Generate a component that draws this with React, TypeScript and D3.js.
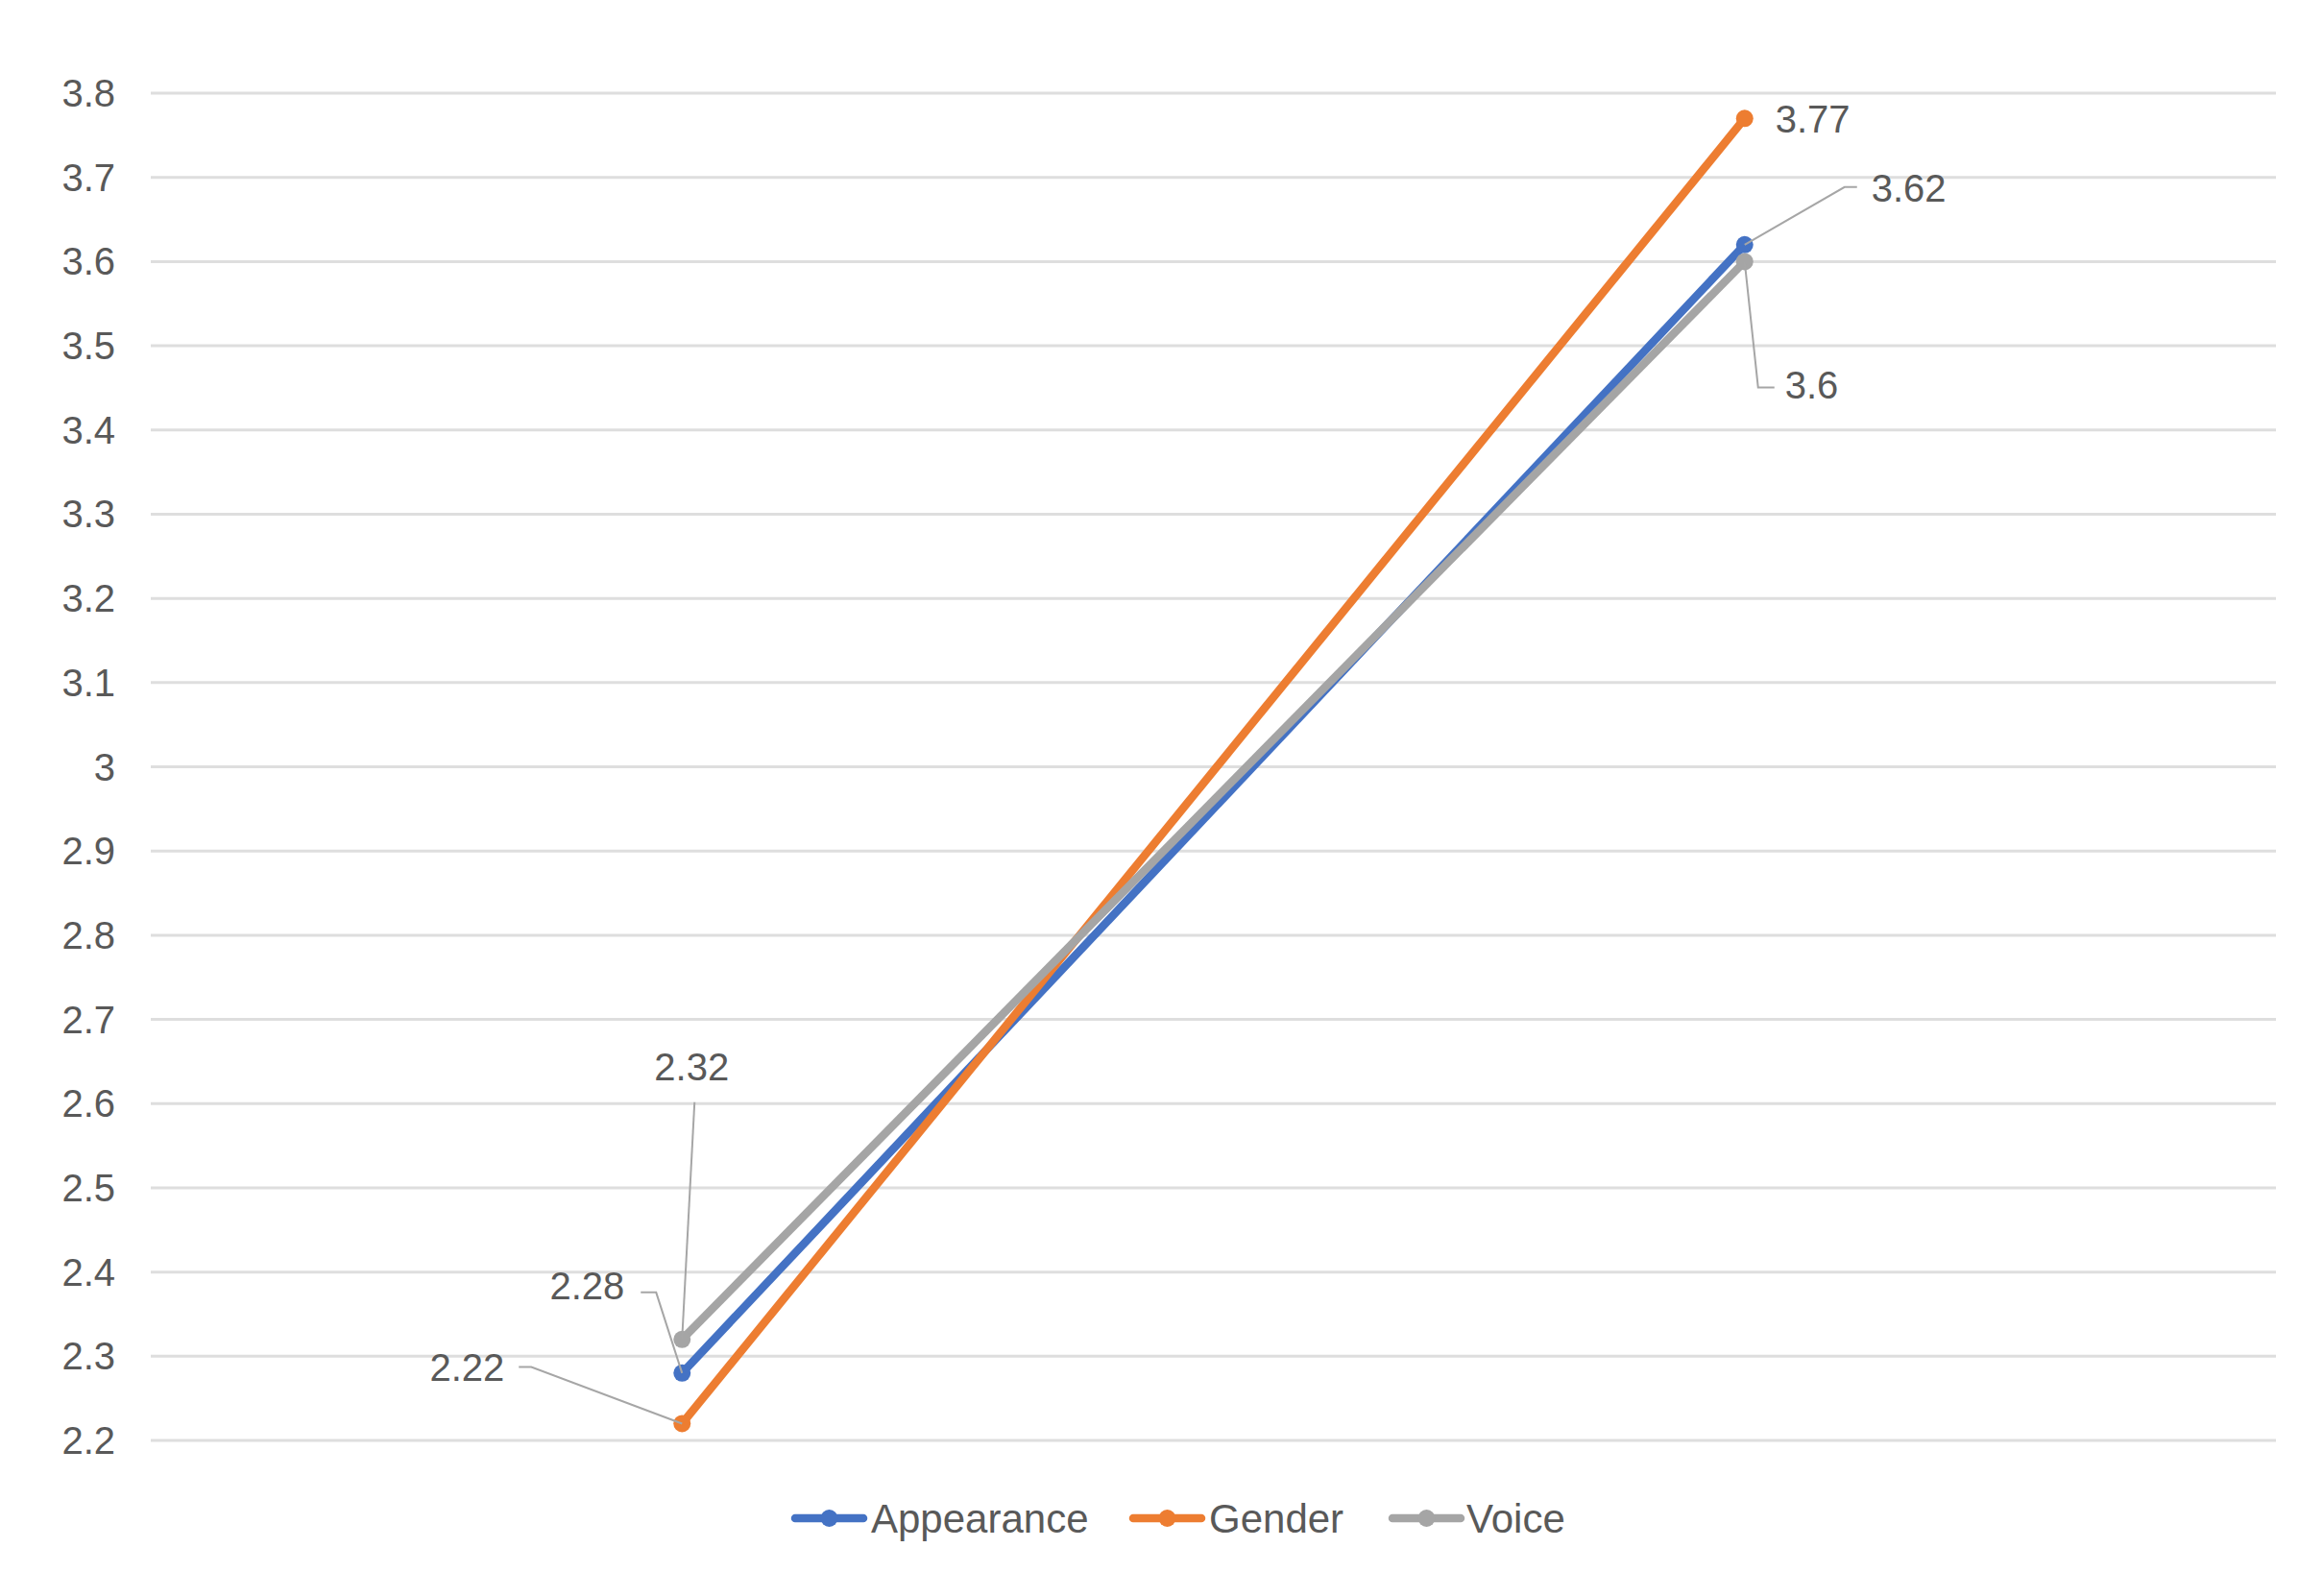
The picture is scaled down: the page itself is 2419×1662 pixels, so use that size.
import React, { useEffect } from "react";
import * as d3 from "d3";

const categories = ["Group 1", "Group 2"];
const seriesNames = ["Appearance", "Gender", "Voice"];
const appearance = [2.28, 3.62];
const gender = [2.22, 3.77];
const voice = [2.32, 3.6];
const yTicks = [2.2, 2.3, 2.4, 2.5, 2.6, 2.7, 2.8, 2.9, 3.0, 3.1, 3.2, 3.3, 3.4, 3.5, 3.6, 3.7, 3.8];

const W = 2419;
const H = 1662;
const colors = ["#4472C4", "#ED7D31", "#A5A5A5"];
const FONT = "'Liberation Sans', Arial, sans-serif";
const TEXT = "#595959";

type LabelCfg = { dx: number; dy: number; anchor: string; leader: [number, number][] | null };
const labelCfg: LabelCfg[][] = [
  [
    { dx: -60, dy: -77, anchor: "end", leader: [[-27, -84], [-43, -84]] },
    { dx: 132, dy: -45, anchor: "start", leader: [[104, -60], [117, -60]] },
  ],
  [
    { dx: -185, dy: -44, anchor: "end", leader: [[-157, -59], [-170, -59]] },
    { dx: 32, dy: 15, anchor: "start", leader: null },
  ],
  [
    { dx: 10, dy: -270, anchor: "middle", leader: [[13, -247]] },
    { dx: 42, dy: 143, anchor: "start", leader: [[14, 131], [31, 131]] },
  ],
];

export default function App() {
  useEffect(() => {
    document.body.style.margin = "0";
  }, []);

  const x = d3.scaleBand<string>().domain(categories).range([157, 2370]);
  const y = d3.scaleLinear().domain([2.2, 3.8]).range([1500, 97]);
  const data = [appearance, gender, voice];
  const line = d3
    .line<number>()
    .x((_, i) => (x(categories[i]) as number) + x.bandwidth() / 2)
    .y((d) => y(d));

  const fmt = (v: number) => String(+v.toFixed(1));

  const legendItems = [
    { lx: 828, tx: 907 },
    { lx: 1180, tx: 1259 },
    { lx: 1450, tx: 1527 },
  ];
  const legendY = 1581;

  return (
    <svg width={W} height={H} style={{ display: "block", background: "#fff" }} fontFamily={FONT}>
      <rect x={0} y={0} width={W} height={H} fill="#fff" />
      {yTicks.map((t) => (
        <g key={t}>
          <line x1={157} x2={2370} y1={y(t)} y2={y(t)} stroke="#DEDEDE" strokeWidth={3} />
          <text x={120} y={y(t)} dy="0.35em" textAnchor="end" fontSize={40} fill={TEXT}>
            {fmt(t)}
          </text>
        </g>
      ))}
      {data.map((s, si) => (
        <g key={seriesNames[si]}>
          <path d={line(s) || ""} fill="none" stroke={colors[si]} strokeWidth={8.5} strokeLinejoin="round" />
          {s.map((v, i) => (
            <circle
              key={i}
              cx={(x(categories[i]) as number) + x.bandwidth() / 2}
              cy={y(v)}
              r={9}
              fill={colors[si]}
            />
          ))}
        </g>
      ))}
      {data.map((s, si) =>
        s.map((v, i) => {
          const px = (x(categories[i]) as number) + x.bandwidth() / 2;
          const py = y(v);
          const c = labelCfg[si][i];
          const pts: [number, number][] = c.leader ? [[0, 0], ...c.leader] : [];
          return (
            <g key={`${si}-${i}`}>
              {c.leader && (
                <polyline
                  points={pts.map(([a, b]) => `${px + a},${py + b}`).join(" ")}
                  fill="none"
                  stroke="#A6A6A6"
                  strokeWidth={2}
                />
              )}
              <text x={px + c.dx} y={py + c.dy} textAnchor={c.anchor as any} fontSize={40} fill={TEXT}>
                {String(v)}
              </text>
            </g>
          );
        })
      )}
      {seriesNames.map((n, i) => (
        <g key={n}>
          <line
            x1={legendItems[i].lx}
            x2={legendItems[i].lx + 71}
            y1={legendY}
            y2={legendY}
            stroke={colors[i]}
            strokeWidth={8.5}
            strokeLinecap="round"
          />
          <circle cx={legendItems[i].lx + 35.5} cy={legendY} r={9} fill={colors[i]} />
          <text x={legendItems[i].tx} y={legendY} dy="0.35em" fontSize={42} fill={TEXT}>
            {n}
          </text>
        </g>
      ))}
    </svg>
  );
}
